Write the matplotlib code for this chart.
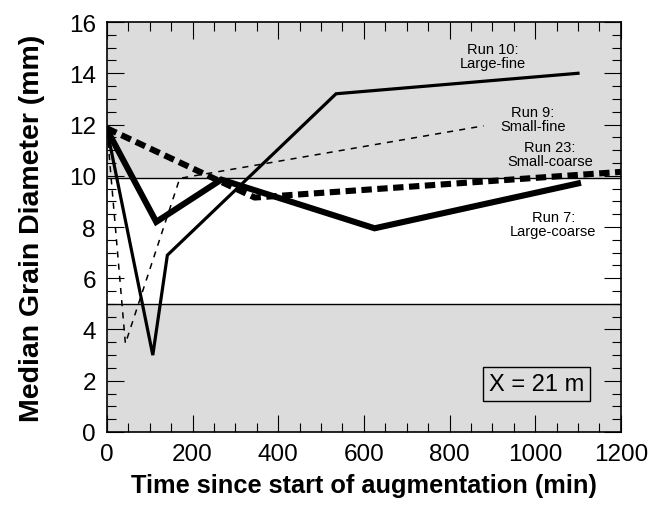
import matplotlib
matplotlib.use("Agg")
import matplotlib.pyplot as plt
from matplotlib.ticker import MultipleLocator

plt.rcParams['font.family'] = ['Liberation Sans', 'DejaVu Sans']

# Median grain diameter (mm) vs time since start of augmentation (min)
run10_t = [0, 107, 141, 535, 1100]
run10_d = [11.8, 3.0, 6.9, 13.2, 14.0]

run7_t = [0, 115, 267, 625, 1100]
run7_d = [11.8, 8.2, 9.85, 7.95, 9.7]

run9_t = [0, 43, 170, 880]
run9_d = [11.8, 3.45, 9.9, 11.95]

run23_t = [0, 345, 1200]
run23_d = [11.85, 9.15, 10.15]

band_low, band_high = 5.0, 9.9

fig = plt.figure(figsize=(6.62, 5.06), dpi=100)
ax = fig.add_axes([0.1616, 0.1443, 0.7762, 0.8102])

gray = '#dcdcdc'
ax.set_facecolor(gray)
ax.axhspan(band_low, band_high, color='white', zorder=0.5, lw=0)
ax.axhline(band_low, color='black', lw=1.0, zorder=1)
ax.axhline(band_high, color='black', lw=1.0, zorder=1)

ax.plot(run10_t, run10_d, color='black', lw=2.3, solid_joinstyle='miter', zorder=3)
ax.plot(run7_t, run7_d, color='black', lw=4.4, solid_joinstyle='miter', zorder=3)
ax.plot(run9_t, run9_d, color='black', lw=1.1, dashes=(4, 4), zorder=3)
ax.plot(run23_t, run23_d, color='black', lw=4.4, dashes=(1.7, 0.9), zorder=3)

ax.set_xlim(0, 1200)
ax.set_ylim(0, 16)
ax.xaxis.set_major_locator(MultipleLocator(200))
ax.xaxis.set_minor_locator(MultipleLocator(50))
ax.yaxis.set_major_locator(MultipleLocator(2))
ax.yaxis.set_minor_locator(MultipleLocator(0.5))
ax.tick_params(which='both', direction='in', top=True, right=True, width=0.8, color='black')
ax.tick_params(which='major', length=12.5, labelsize=17.5, pad=8)
ax.tick_params(which='minor', length=6.5)
for s in ax.spines.values():
    s.set_linewidth(1.2)

ax.set_xlabel('Time since start of augmentation (min)', fontsize=18.3, fontweight='bold', labelpad=6)
ax.set_ylabel('Median Grain Diameter (mm)', fontsize=20.5, fontweight='bold', labelpad=17)

lab = dict(ha='center', va='center', fontsize=10.5, linespacing=1.0, zorder=4)
ax.text(901, 14.68, 'Run 10:\nLarge-fine', **lab)
ax.text(995, 12.23, 'Run 9:\nSmall-fine', **lab)
ax.text(1035, 10.84, 'Run 23:\nSmall-coarse', **lab)
ax.text(1042, 8.12, 'Run 7:\nLarge-coarse', **lab)

ax.text(1004, 1.86, 'X = 21 m', ha='center', va='center', fontsize=17, zorder=4,
        bbox=dict(boxstyle='square,pad=0.25', facecolor='none', edgecolor='black', lw=1.0))

fig.savefig('out.png', dpi=100)
